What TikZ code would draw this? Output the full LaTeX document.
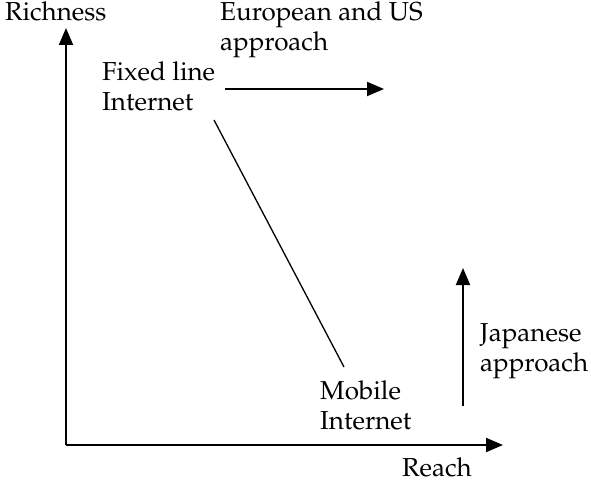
\documentclass[tikz,border=0pt]{standalone}
\usepackage[T1]{fontenc}
\usepackage{palatino}
\usetikzlibrary{arrows.meta}

\begin{document}
\begin{tikzpicture}[x=1pt,y=-1pt,
    axis/.style={line width=2pt,-{Triangle[length=17pt,width=14pt]}},
    lbl/.style={align=left,inner sep=0pt,anchor=base west,font=\fontsize{26}{30}\selectfont}]
            \useasboundingbox (0,0) rectangle (591,481);
            % axes
            \coordinate (origin) at (66,445);
            \coordinate (ytip) at (66,28);
            \coordinate (xtip) at (503,445);
            \draw[axis] (origin)--(ytip);
            \draw[axis] (origin)--(xtip);
            \node[lbl] (richness) at (5,21) {Richness};
            \node[lbl] (reach) at (402,476) {Reach};
            % labels (anchored at the last line)
            \node[lbl] (fixed) at (102,111) {Fixed line\\Internet};
            \node[lbl] (mobile) at (320,429) {Mobile\\Internet};
            \node[lbl] (europe) at (220,51) {European and US\\approach};
            \node[lbl] (japan) at (480,371) {Japanese\\approach};
            % arrows
            \coordinate (eu0) at (225,89);
            \coordinate (eu1) at (384,89);
            \coordinate (jp0) at (463,406);
            \coordinate (jp1) at (463,268);
            \coordinate (d0) at (214,120);
            \coordinate (d1) at (344,367);
            \draw[axis] (eu0)--(eu1);
            \draw[axis] (jp0)--(jp1);
            \draw[line width=1.3pt] (d0)--(d1);
\end{tikzpicture}
\end{document}
